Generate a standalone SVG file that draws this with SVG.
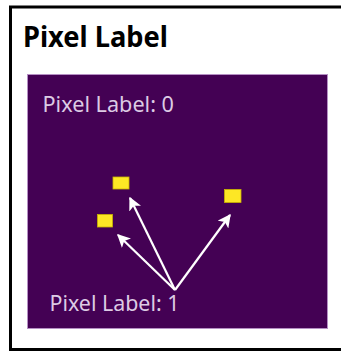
<svg xmlns="http://www.w3.org/2000/svg" width="341" height="352" viewBox="0 0 341 352">
<style>
.lbl{font-family:"Noto Sans","Open Sans",sans-serif;font-size:22px;fill:#dccbe4}
.px{fill:#fde725;stroke:#c8b400;stroke-width:0.8}
.arr{stroke:#ffffff;stroke-width:2.2;fill:none;marker-end:url(#ah)}
</style>
<defs>
<marker id="ah" viewBox="0 0 10 10" refX="9" refY="5" markerWidth="6" markerHeight="6" orient="auto" markerUnits="strokeWidth">
<path d="M0,0 L10,5 L0,10 L2.5,5 Z" fill="#ffffff"/>
</marker>
</defs>
<rect width="341" height="352" fill="#ffffff"/>
<g id="frame">
<path d="M341,7 H10.5 V349.5 H341" fill="none" stroke="#000000" stroke-width="3"/>
<text x="23" y="47" font-family="'Noto Sans','Open Sans',sans-serif" font-weight="bold" font-size="29" textLength="145" lengthAdjust="spacingAndGlyphs" fill="#000000">Pixel Label</text>
</g>
<g id="image">
<rect x="27.5" y="74.5" width="300" height="254" fill="#440154" stroke="#b58fc4" stroke-width="1"/>
</g>
<g id="label0">
<text class="lbl" x="42.5" y="111.5" textLength="131.5" lengthAdjust="spacingAndGlyphs">Pixel Label: 0</text>
</g>
<g id="label1">
<text class="lbl" x="49.5" y="311" textLength="130" lengthAdjust="spacingAndGlyphs">Pixel Label: 1</text>
</g>
<g id="pixels">
<rect class="px" x="113" y="177" width="16" height="12"/>
<rect class="px" x="97.5" y="214.5" width="15" height="12.5"/>
<rect class="px" x="224.5" y="189.5" width="16.5" height="13"/>
</g>
<g id="connectors">
<line class="arr" x1="175" y1="290" x2="130" y2="198"/>
<line class="arr" x1="175" y1="290" x2="118" y2="235"/>
<line class="arr" x1="175" y1="290" x2="230" y2="215"/>
</g>
</svg>
